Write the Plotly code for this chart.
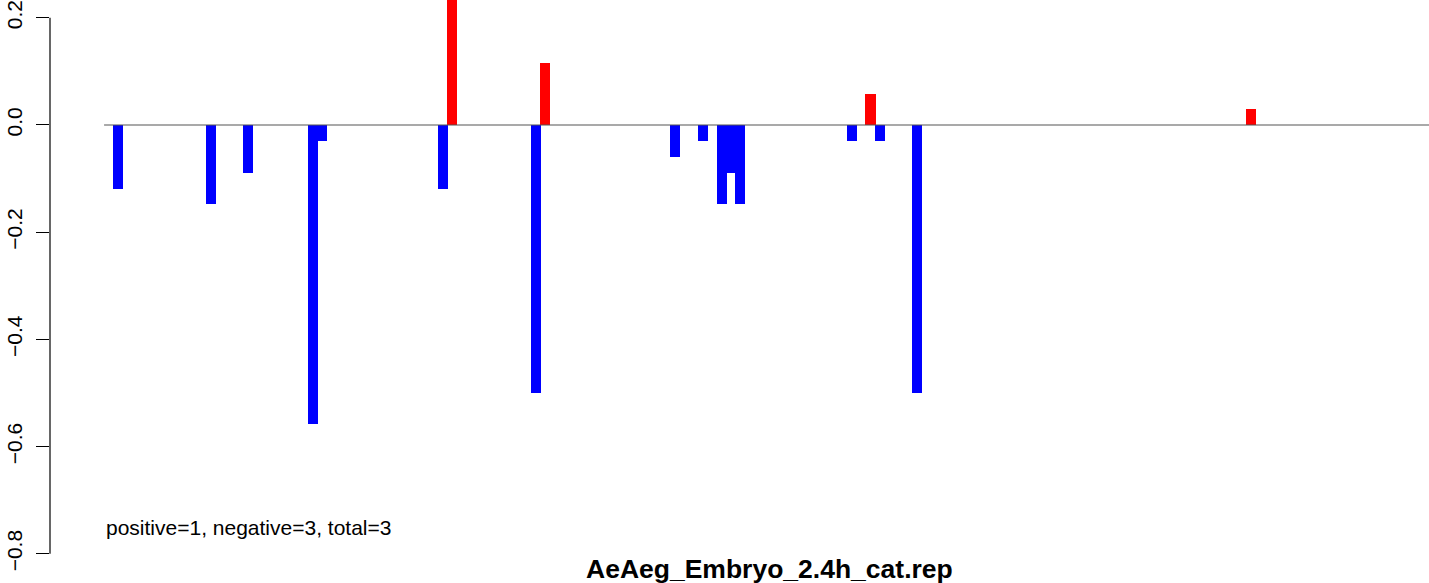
import plotly.graph_objects as go

# ---- data ----
positions = [0, 10, 14, 21, 22, 35, 36, 45, 46, 60, 63, 65, 66, 67, 79, 81, 82, 86, 122]
values = [-0.119, -0.147, -0.089, -0.557, -0.030, -0.119, 0.30, -0.500, 0.116,
          -0.059, -0.030, -0.147, -0.089, -0.147, -0.030, 0.058, -0.030, -0.500, 0.029]
tick_vals = [0.2, 0.0, -0.2, -0.4, -0.6, -0.8]
tick_text = ["0.2", "0.0", "\u22120.2", "\u22120.4", "\u22120.6", "\u22120.8"]
summary_text = "positive=1, negative=3, total=3"
title_text = "AeAeg_Embryo_2.4h_cat.rep"

POS_COLOR = "#FF0000"
NEG_COLOR = "#0000FF"
colors = [POS_COLOR if v > 0 else NEG_COLOR for v in values]

W, H = 1429, 583
L_MARGIN = 50
x_range = [-7.32, 141.12]
y_range = [-0.8545, 0.2332]

fig = go.Figure()
fig.add_trace(go.Bar(
    x=positions, y=values, width=1.08,
    marker=dict(color=colors, line=dict(width=0)),
    hoverinfo="x+y", showlegend=False,
))

# zero reference line
fig.add_shape(type="line", xref="x", yref="y", x0=-1.5, x1=x_range[1], y0=0, y1=0,
              line=dict(color="#555555", width=1.2), layer="above")
# R-style y axis line spanning only the tick range
fig.add_shape(type="line", xref="paper", yref="y", x0=0, x1=0,
              y0=min(tick_vals), y1=max(tick_vals),
              line=dict(color="black", width=1.2), layer="above")

# summary text
fig.add_annotation(xref="paper", yref="paper",
                   x=(104 - L_MARGIN) / (W - L_MARGIN), y=1 - 527 / H,
                   xanchor="left", yanchor="middle", showarrow=False,
                   text=summary_text,
                   font=dict(family="Liberation Sans, Arial, sans-serif", size=21, color="black"))
# title at bottom
fig.add_annotation(xref="paper", yref="paper",
                   x=(770 - L_MARGIN) / (W - L_MARGIN), y=1 - 569 / H,
                   xanchor="center", yanchor="middle", showarrow=False,
                   text="<b>" + title_text + "</b>",
                   font=dict(family="Liberation Sans, Arial, sans-serif", size=26.5, color="black"))

fig.update_layout(
    width=W, height=H,
    margin=dict(l=L_MARGIN, r=0, t=0, b=0, pad=0),
    paper_bgcolor="white", plot_bgcolor="white",
    bargap=0,
    xaxis=dict(range=x_range, visible=False, showgrid=False, zeroline=False),
    yaxis=dict(range=y_range, tickmode="array", tickvals=tick_vals, ticktext=tick_text,
               ticks="outside", ticklen=13, tickwidth=1.2, tickcolor="black",
               tickangle=-90, ticklabelstandoff=6,
               tickfont=dict(family="Liberation Sans, Arial, sans-serif", size=21, color="black"),
               showgrid=False, zeroline=False, showline=False),
    font=dict(family="Liberation Sans, Arial, sans-serif"),
)

fig.write_html("out.html",
               config={"displayModeBar": False},
               post_script="document.body.style.margin='0';document.body.style.padding='0';"
                           "document.body.style.overflow='hidden';")
